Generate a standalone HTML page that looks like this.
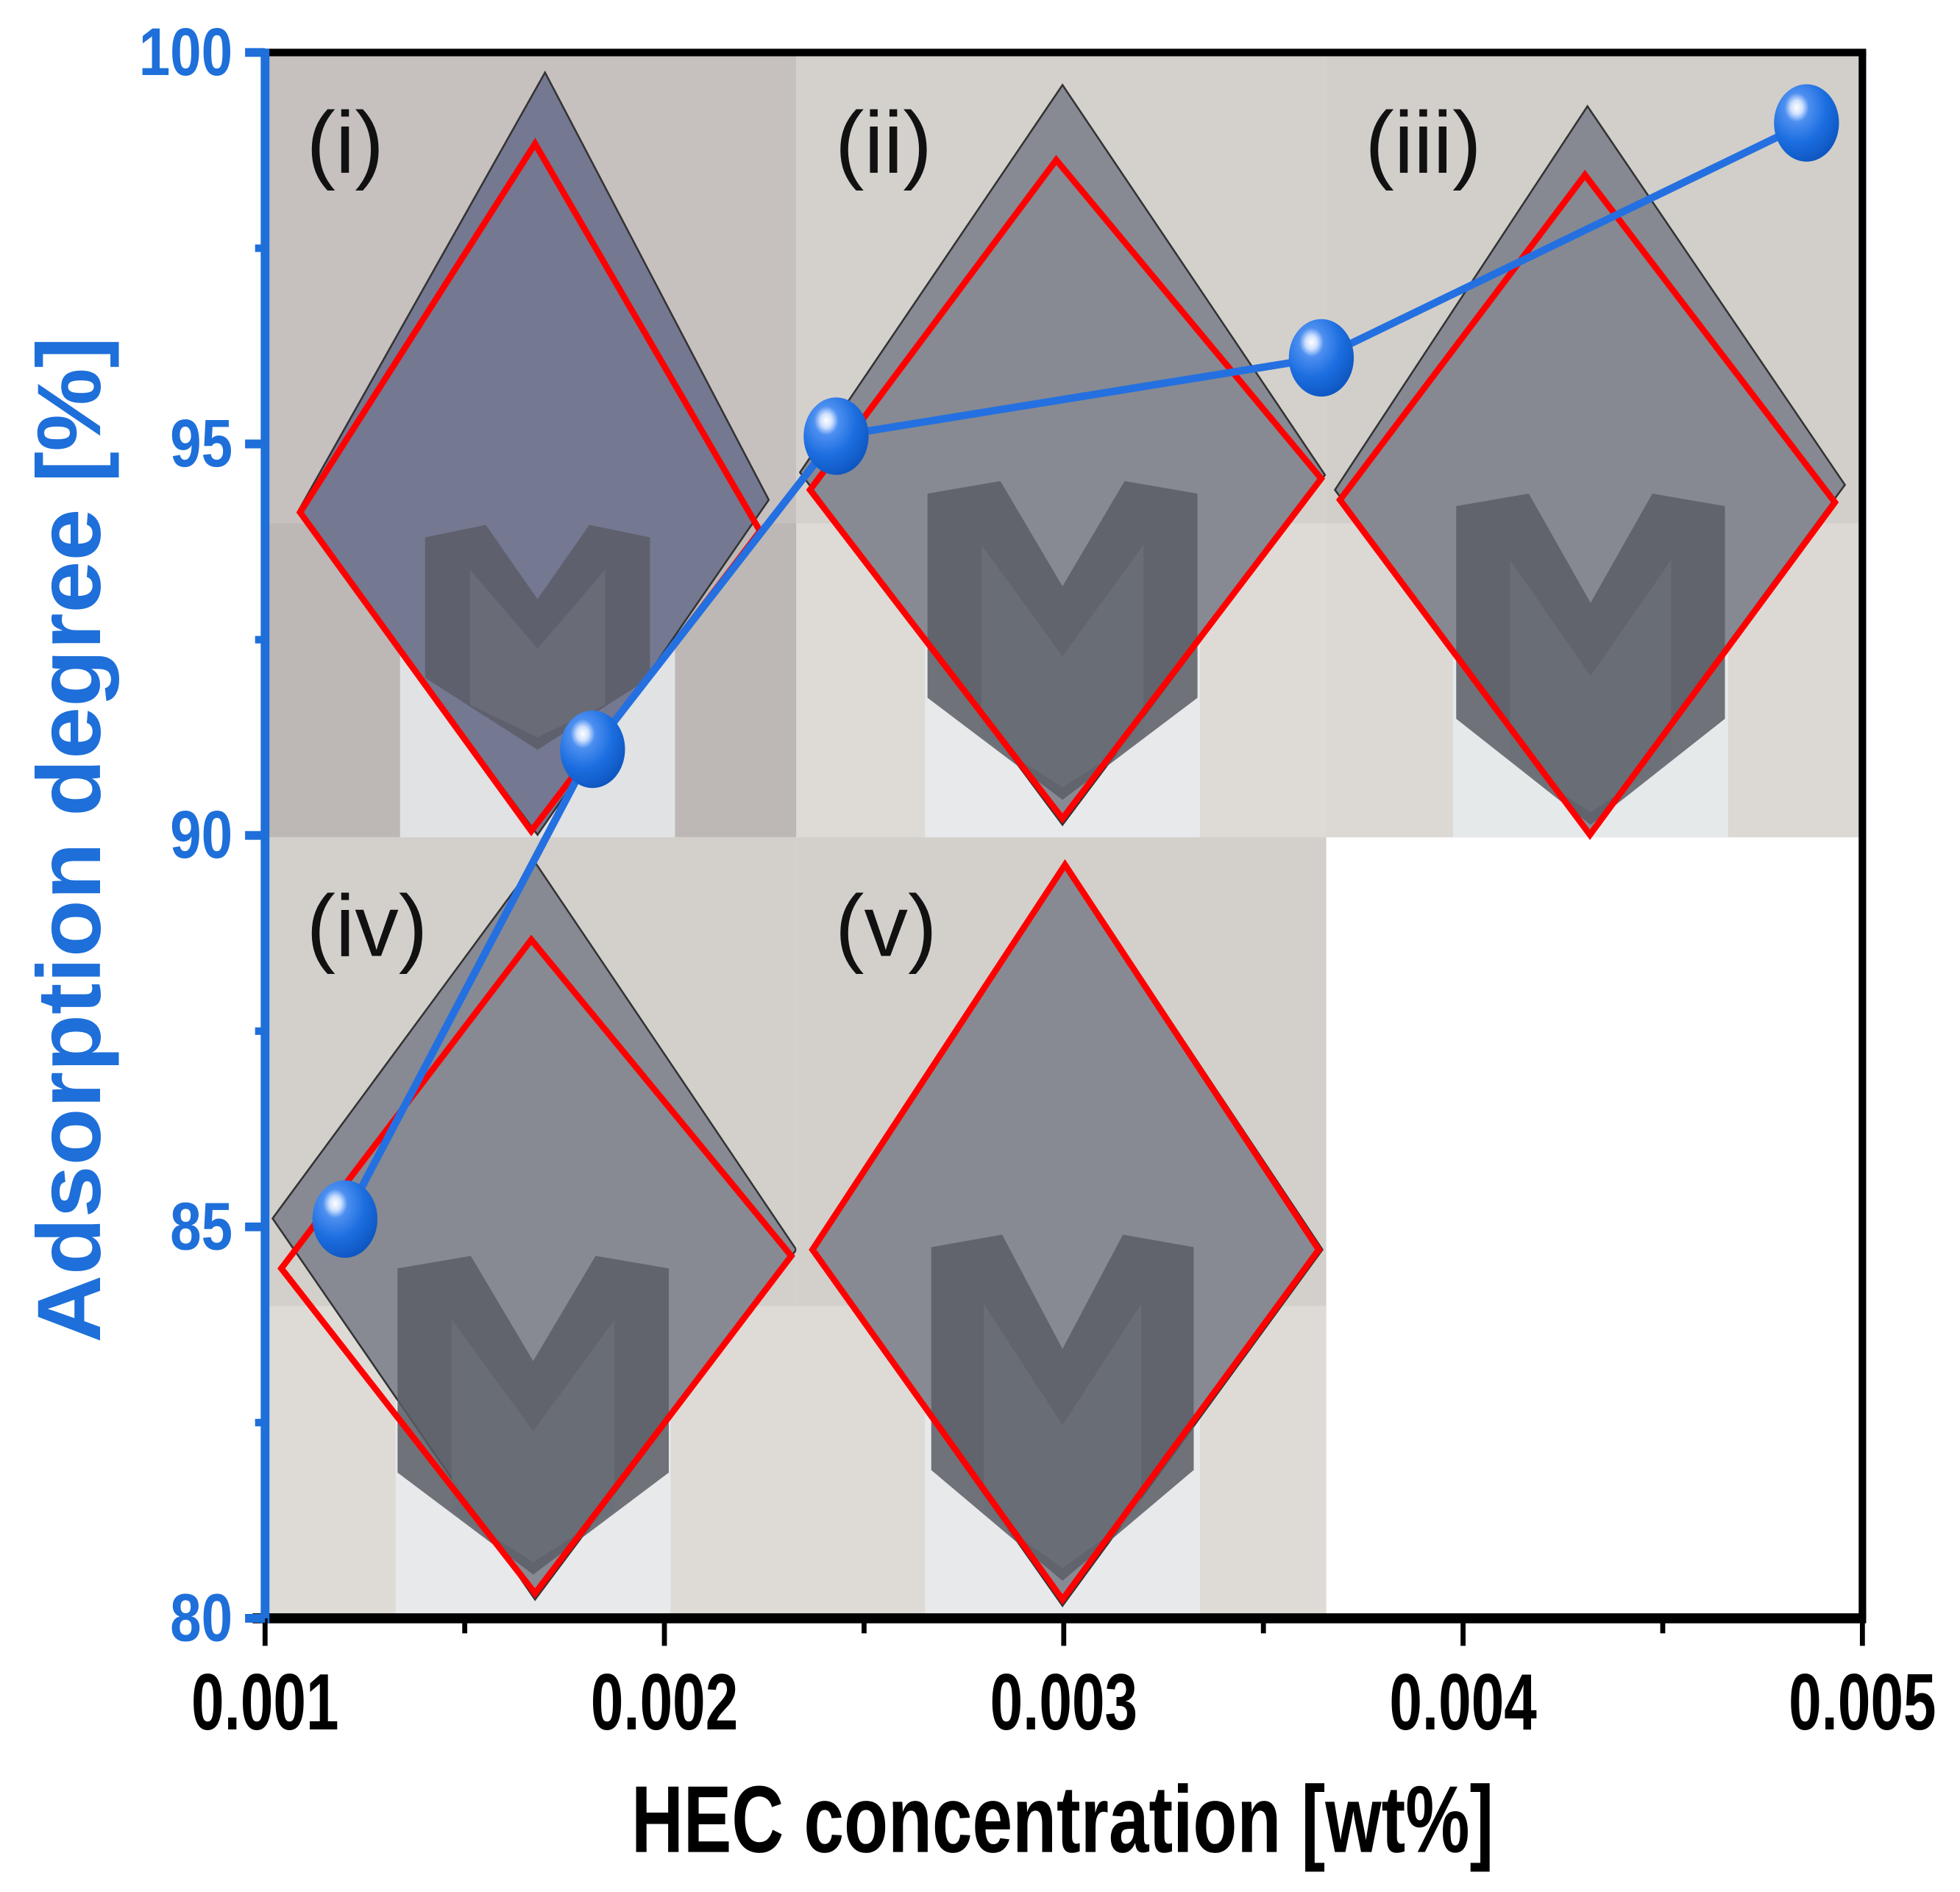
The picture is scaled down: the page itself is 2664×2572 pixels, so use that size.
<!DOCTYPE html>
<html><head><meta charset="utf-8">
<style>
html,body{margin:0;padding:0;background:#fff;}
svg{display:block;}
text{font-family:"Liberation Sans Narrow","Liberation Sans",sans-serif;}
</style></head>
<body>
<svg id="chart" width="2664" height="2572" viewBox="0 0 1568 1514" xmlns="http://www.w3.org/2000/svg">
<defs>
<radialGradient id="ball" cx="0.35" cy="0.3" r="0.75">
<stop offset="0" stop-color="#ffffff"/>
<stop offset="0.12" stop-color="#cfe1ff"/>
<stop offset="0.25" stop-color="#4d8ff0"/>
<stop offset="0.6" stop-color="#1c6ee0"/>
<stop offset="1" stop-color="#0d55c0"/>
</radialGradient>
<clipPath id="plotclip"><rect x="212" y="42" width="1278" height="1253"/></clipPath>
</defs>
<g id="photos" clip-path="url(#plotclip)"></g>
<g id="frame"></g>
<g id="series"></g>
<g id="axes"></g>
<text x="850" y="1482" text-anchor="middle" font-size="76" font-weight="bold" textLength="690" lengthAdjust="spacingAndGlyphs">HEC concentration [wt%]</text>
<text transform="translate(80,672) rotate(-90)" text-anchor="middle" font-size="72" font-weight="bold" fill="#1e6fd9" textLength="805" lengthAdjust="spacingAndGlyphs" style="font-family:'Liberation Sans',sans-serif">Adsorption degree [%]</text>
</svg>
<script>
const xValues = [0.0012, 0.00182, 0.00243, 0.003645, 0.00486];
const yValues = [85.1, 91.1, 95.1, 96.1, 99.1];
const xTickLabels = ["0.001", "0.002", "0.003", "0.004", "0.005"];
const xTickValues = [0.001, 0.002, 0.003, 0.004, 0.005];
const yTickLabels = ["80", "85", "90", "95", "100"];
const yTickValues = [80, 85, 90, 95, 100];

const NS = "http://www.w3.org/2000/svg";
const L = 212, R = 1490, T = 42, B = 1295;
const xMin = 0.001, xMax = 0.005, yMin = 80, yMax = 100;
function xs(v){ return L + (v - xMin) / (xMax - xMin) * (R - L); }
function ys(v){ return B - (v - yMin) / (yMax - yMin) * (B - T); }
function mk(tag, attrs, parent){
  const e = document.createElementNS(NS, tag);
  for (const k in attrs) e.setAttribute(k, attrs[k]);
  parent.appendChild(e);
  return e;
}

// Photo panels (decorative)
const photos = document.getElementById('photos');
const panels = [
  {x:212,y:42,w:425,h:628,bg:"#c6c0bf",low:"#bdb8b5",dia:"#757891",d:[436,58,238,410,615,400,430,668],r:[428,115,240,410,425,665,608,425],label:"(i)",lx:245,ly:138,m:[340,420,520,600]},
  {x:637,y:42,w:424,h:628,bg:"#d4d1cc",low:"#dedbd6",dia:"#878a93",d:[850,68,640,378,1060,380,850,660],r:[845,128,648,392,850,655,1057,383],label:"(ii)",lx:668,ly:138,m:[742,385,958,640]},
  {x:1061,y:42,w:429,h:628,bg:"#d2cfca",low:"#dcd9d4",dia:"#868992",d:[1270,85,1068,392,1476,388,1270,668],r:[1268,140,1072,400,1272,668,1468,402],label:"(iii)",lx:1092,ly:138,m:[1165,395,1380,660]},
  {x:212,y:670,w:425,h:625,bg:"#d3d0cb",low:"#dedbd6",dia:"#878a93",d:[428,690,218,975,637,1000,428,1280],r:[425,752,225,1015,428,1275,633,1005],label:"(iv)",lx:245,ly:765,m:[318,1005,535,1260]},
  {x:637,y:670,w:424,h:625,bg:"#d3d0cb",low:"#dedbd6",dia:"#878a93",d:[852,690,650,1000,1058,1000,850,1285],r:[852,692,650,1000,850,1280,1055,1000],label:"(v)",lx:668,ly:765,m:[745,988,955,1265]}
];
panels.forEach((p,i)=>{
  const g = mk('g',{},photos);
  
  
  mk('rect',{x:p.x,y:p.y,width:p.w,height:p.h,fill:p.bg},g);
  mk('rect',{x:p.x,y:p.y+p.h*0.6,width:p.w,height:p.h*0.4,fill:p.low},g);
  const cx=(p.m[0]+p.m[2])/2;
  mk('rect',{x:cx-110,y:p.m[1]+40,width:220,height:p.y+p.h-p.m[1]-40,fill:"#e9ecef",opacity:0.8},g);
  const d=p.d;
  mk('polygon',{points:`${d[0]},${d[1]} ${d[4]},${d[5]} ${d[6]},${d[7]} ${d[2]},${d[3]}`,fill:p.dia,stroke:"#333",'stroke-width':1.5},g);
  const m=p.m, mw=m[2]-m[0], mh=m[3]-m[1];
  mk('polygon',{points:`${m[0]},${m[1]+10} ${m[0]+mw*0.27},${m[1]} ${cx},${m[1]+mh*0.33} ${m[2]-mw*0.27},${m[1]} ${m[2]},${m[1]+10} ${m[2]},${m[1]+mh*0.68} ${cx},${m[3]} ${m[0]},${m[1]+mh*0.68}`,fill:"#5a5d66",opacity:0.85},g);
  mk('polygon',{points:`${m[0]+mw*0.2},${m[1]+mh*0.2} ${cx},${m[1]+mh*0.55} ${m[2]-mw*0.2},${m[1]+mh*0.2} ${m[2]-mw*0.2},${m[1]+mh*0.8} ${cx},${m[3]-10} ${m[0]+mw*0.2},${m[1]+mh*0.8}`,fill:"#6c6f78",opacity:0.8},g);
  const r=p.r;
  mk('polygon',{points:`${r[0]},${r[1]} ${r[6]},${r[7]} ${r[4]},${r[5]} ${r[2]},${r[3]}`,fill:"none",stroke:"#ff0000",'stroke-width':5,'stroke-linejoin':'miter'},g);
  const t=mk('text',{x:p.lx,y:p.ly,'font-size':70,fill:"#111",style:"font-family:'Liberation Sans',sans-serif"},g);
  t.textContent=p.label;
  
  
});

// Frame: top and right black axes
const frame = document.getElementById('frame');
mk('line',{x1:L,y1:T,x2:R+3,y2:T,stroke:"#000",'stroke-width':6},frame);
mk('line',{x1:R,y1:T,x2:R,y2:B,stroke:"#000",'stroke-width':6},frame);

// Series
const series = document.getElementById('series');
const pts = xValues.map((v,i)=>xs(v)+','+ys(yValues[i])).join(' ');
const line = mk('polyline',{points:pts,fill:"none",stroke:"#2470e0",'stroke-width':6},series);


xValues.forEach((v,i)=>{
  const c = mk('ellipse',{cx:xs(v),cy:ys(yValues[i]),rx:26,ry:31,fill:"url(#ball)"},series);
  
  
});

// Axes
const axes = document.getElementById('axes');
mk('line',{x1:L-10,y1:B,x2:R+3,y2:B,stroke:"#000",'stroke-width':8},axes);
mk('line',{x1:L,y1:T-3,x2:L,y2:B+4,stroke:"#1e6fd9",'stroke-width':7},axes);
xTickValues.forEach((v,i)=>{
  mk('line',{x1:xs(v),y1:B,x2:xs(v),y2:B+22,stroke:"#000",'stroke-width':4},axes);
  if(i<xTickValues.length-1){
    const mv=(v+xTickValues[i+1])/2;
    mk('line',{x1:xs(mv),y1:B,x2:xs(mv),y2:B+12,stroke:"#000",'stroke-width':4},axes);
  }
  const t=mk('text',{x:xs(v),y:1384,'text-anchor':'middle','font-size':64,'font-weight':'bold',textLength:118,lengthAdjust:'spacingAndGlyphs'},axes);
  t.textContent=xTickLabels[i];
  
  
});
yTickValues.forEach((v,i)=>{
  mk('line',{x1:L,y1:ys(v),x2:L-16,y2:ys(v),stroke:"#1e6fd9",'stroke-width':7},axes);
  if(i<yTickValues.length-1){
    const mv=(v+yTickValues[i+1])/2;
    mk('line',{x1:L,y1:ys(mv),x2:L-8,y2:ys(mv),stroke:"#1e6fd9",'stroke-width':6},axes);
  }
  const lbl=yTickLabels[i];
  const t=mk('text',{x:186,y:ys(v)+18,'text-anchor':'end','font-size':54,'font-weight':'bold',fill:"#1e6fd9",textLength:lbl.length*25,lengthAdjust:'spacingAndGlyphs'},axes);
  t.textContent=lbl;
  
  
});
</script>
</body></html>
